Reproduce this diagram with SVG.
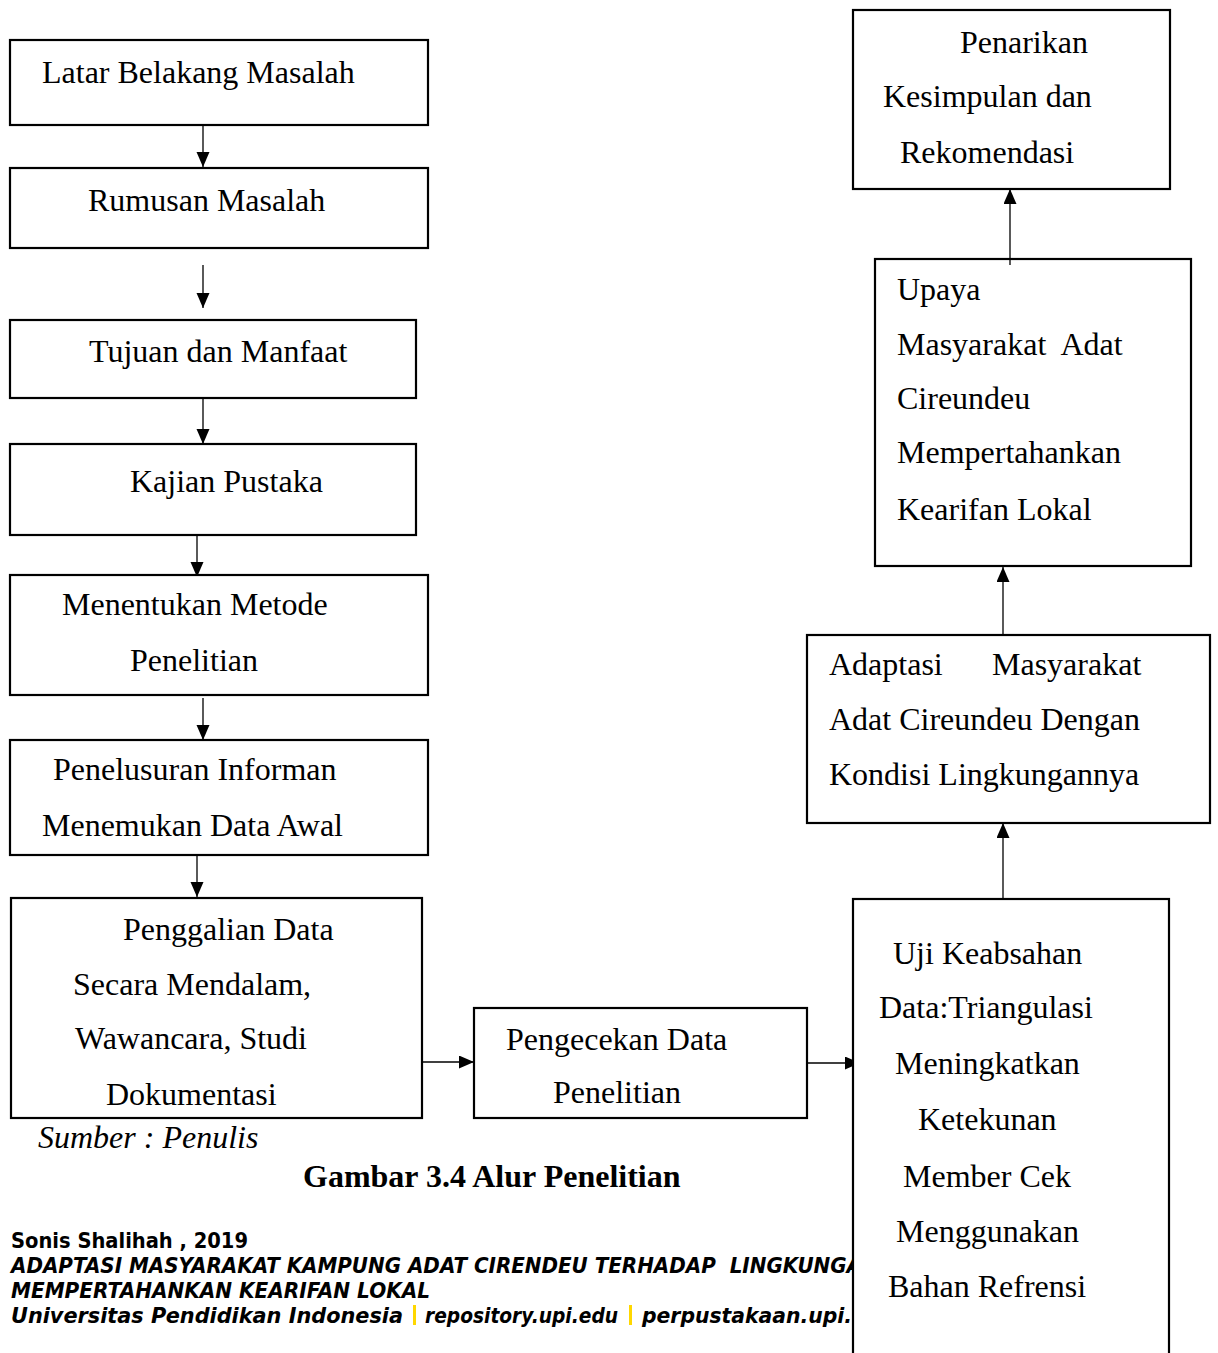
<svg xmlns="http://www.w3.org/2000/svg" width="1218" height="1353" viewBox="0 0 1218 1353">
<style>
.box{fill:#fff;stroke:#000;stroke-width:2.2}
.t{font-family:"Liberation Serif","Times New Roman",serif;font-size:32px;fill:#000;white-space:pre}
.c{stroke:#000;stroke-width:1.3;fill:none;marker-end:url(#ah)}
.f{font-family:"DejaVu Sans","Liberation Sans",sans-serif;font-size:21px;font-weight:bold;fill:#000;white-space:pre}
.fi{font-style:italic}
.y{fill:#FFD700}
</style>
<defs>
<marker id="ah" markerUnits="userSpaceOnUse" markerWidth="16" markerHeight="14" refX="15" refY="6.5" orient="auto">
<path d="M0,0 L15,6.5 L0,13 z" fill="#000"/>
</marker>
</defs>
<rect width="1218" height="1353" fill="#fff"/>

<g id="footer">
<text class="f" x="11" y="1248" textLength="237" lengthAdjust="spacingAndGlyphs">Sonis Shalihah , 2019</text>
<text class="f fi" x="11" y="1273" textLength="851" lengthAdjust="spacingAndGlyphs">ADAPTASI MASYARAKAT KAMPUNG ADAT CIRENDEU TERHADAP  LINGKUNGA</text>
<text class="f fi" x="11" y="1298" textLength="419" lengthAdjust="spacingAndGlyphs">MEMPERTAHANKAN KEARIFAN LOKAL</text>
<text class="f fi" x="11" y="1323" textLength="392" lengthAdjust="spacingAndGlyphs">Universitas Pendidikan Indonesia</text>
<rect class="y" x="413" y="1305" width="3" height="20"/>
<text class="f fi" x="425" y="1323" textLength="193" lengthAdjust="spacingAndGlyphs">repository.upi.edu</text>
<rect class="y" x="629" y="1305" width="3" height="20"/>
<text class="f fi" x="642" y="1323" textLength="210" lengthAdjust="spacingAndGlyphs">perpustakaan.upi.</text>
</g>

<g id="captions">
<text class="t" x="38" y="1148" font-style="italic">Sumber : Penulis</text>
<text class="t" x="303" y="1187" font-weight="bold">Gambar 3.4 Alur Penelitian</text>
</g>

<g id="connectors">
<line class="c" x1="203" y1="125" x2="203" y2="167"/>
<line class="c" x1="203" y1="265" x2="203" y2="308"/>
<line class="c" x1="203" y1="398" x2="203" y2="444"/>
<line class="c" x1="197" y1="535" x2="197" y2="577"/>
<line class="c" x1="203" y1="698" x2="203" y2="740"/>
<line class="c" x1="197" y1="855" x2="197" y2="897"/>
<line class="c" x1="422" y1="1062" x2="474" y2="1062"/>
<line class="c" x1="807" y1="1063" x2="860" y2="1063"/>
<line class="c" x1="1003" y1="899" x2="1003" y2="823"/>
<line class="c" x1="1003" y1="635" x2="1003" y2="567"/>
<line class="c" x1="1010" y1="265" x2="1010" y2="189"/>
</g>

<g id="n1"><rect class="box" x="10" y="40" width="418" height="85"/><text class="t" x="42" y="83">Latar Belakang Masalah</text></g>
<g id="n2"><rect class="box" x="10" y="168" width="418" height="80"/><text class="t" x="88" y="211">Rumusan Masalah</text></g>
<g id="n3"><rect class="box" x="10" y="320" width="406" height="78"/><text class="t" x="89" y="362">Tujuan dan Manfaat</text></g>
<g id="n4"><rect class="box" x="10" y="444" width="406" height="91"/><text class="t" x="130" y="492">Kajian Pustaka</text></g>
<g id="n5"><rect class="box" x="10" y="575" width="418" height="120"/><text class="t" x="62" y="615">Menentukan Metode</text><text class="t" x="130" y="671">Penelitian</text></g>
<g id="n6"><rect class="box" x="10" y="740" width="418" height="115"/><text class="t" x="53" y="780">Penelusuran Informan</text><text class="t" x="42" y="836">Menemukan Data Awal</text></g>
<g id="n7"><rect class="box" x="11" y="898" width="411" height="220"/>
<text class="t" x="123" y="940">Penggalian Data</text>
<text class="t" x="73" y="995">Secara Mendalam,</text>
<text class="t" x="75" y="1049">Wawancara, Studi</text>
<text class="t" x="106" y="1105">Dokumentasi</text></g>
<g id="n8"><rect class="box" x="474" y="1008" width="333" height="110"/><text class="t" x="506" y="1050">Pengecekan Data</text><text class="t" x="553" y="1103">Penelitian</text></g>
<g id="n9"><rect class="box" x="853" y="899" width="316" height="470"/>
<text class="t" x="893" y="964">Uji Keabsahan</text>
<text class="t" x="879" y="1018">Data:Triangulasi</text>
<text class="t" x="895" y="1074">Meningkatkan</text>
<text class="t" x="918" y="1130">Ketekunan</text>
<text class="t" x="903" y="1187">Member Cek</text>
<text class="t" x="896" y="1242">Menggunakan</text>
<text class="t" x="888" y="1297">Bahan Refrensi</text></g>
<g id="n10"><rect class="box" x="807" y="635" width="403" height="188"/>
<text class="t" x="829" y="675">Adaptasi</text><text class="t" x="992" y="675">Masyarakat</text>
<text class="t" x="829" y="730">Adat Cireundeu Dengan</text>
<text class="t" x="829" y="785">Kondisi Lingkungannya</text></g>
<g id="n11"><rect class="box" x="875" y="259" width="316" height="307"/>
<text class="t" x="897" y="300">Upaya</text>
<text class="t" x="897" y="355">Masyarakat  Adat</text>
<text class="t" x="897" y="409">Cireundeu</text>
<text class="t" x="897" y="463">Mempertahankan</text>
<text class="t" x="897" y="520">Kearifan Lokal</text></g>
<g id="n12"><rect class="box" x="853" y="10" width="317" height="179"/>
<text class="t" x="960" y="53">Penarikan</text>
<text class="t" x="883" y="107">Kesimpulan dan</text>
<text class="t" x="900" y="163">Rekomendasi</text></g>
<line x1="1010" y1="259" x2="1010" y2="265" stroke="#000" stroke-width="1.3"/>
</svg>
